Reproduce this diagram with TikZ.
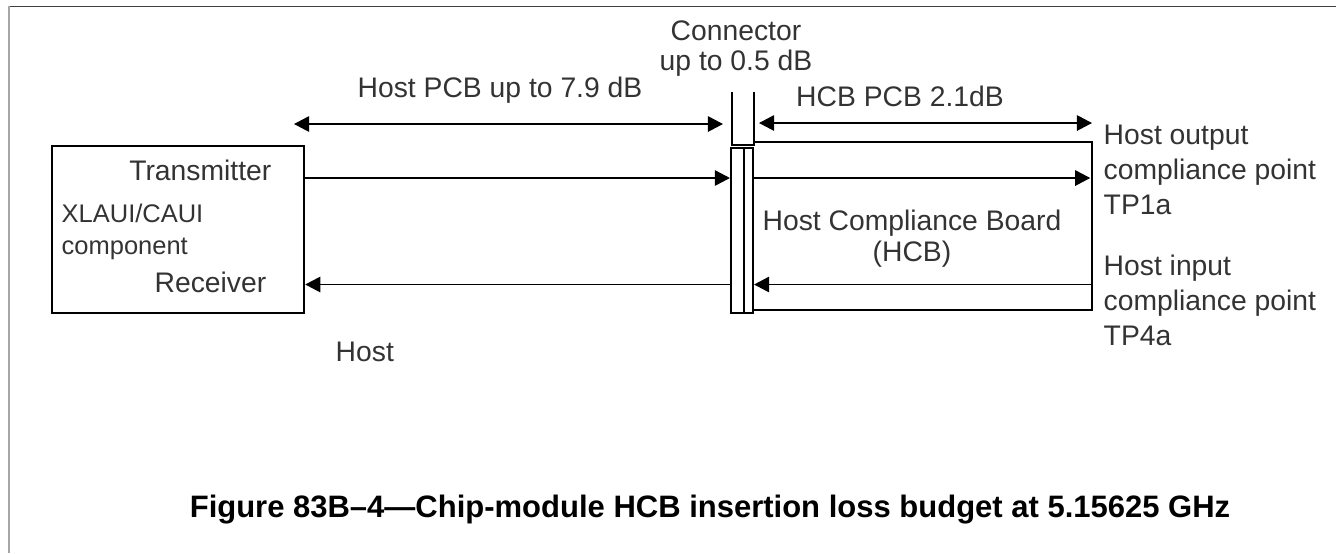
\documentclass[tikz,border=0pt]{standalone}
\usepackage{fontspec}
\setmainfont{Liberation Sans}
\usetikzlibrary{arrows.meta,positioning,calc}

\begin{document}
\begin{tikzpicture}[
        >={Triangle[length=4.3pt,width=4.4pt]},
        font=\fontsize{8.05pt}{9pt}\selectfont,
        lbl/.style={inner sep=0pt, text=black!80},
        small/.style={lbl, font=\fontsize{7.25pt}{9.1pt}\selectfont},
        compbox/.style={
            draw,
            line width=0.7pt,
            minimum width=2.52cm,
            minimum height=1.67cm,
            inner sep=0pt
        },
        pinbox/.style={
            draw,
            line width=0.6pt,
            minimum height=1.65cm,
            inner sep=0pt
        },
        sig/.style={->, line width=0.45pt},
        dim/.style={<->, line width=0.45pt},
        board/.style={line width=0.45pt},
        caption/.style={inner sep=0pt, font=\fontsize{8.82pt}{10pt}\selectfont\bfseries}
    ]
        \useasboundingbox (0,0) rectangle (13.36,-5.53);
        \draw[line width=0.4pt, draw=black!75] (0.09,-0.065) -- (13.36,-0.065);
        \draw[line width=0.6pt, draw=black!35] (0.09,-0.06) -- (0.09,-5.53);

        \coordinate (txy) at (0,-1.78);
        \coordinate (rxy) at (0,-2.845);
        \coordinate (hostL) at (2.94,-1.24);
        \coordinate (hostR) at (7.23,-1.24);
        \coordinate (hcbL) at (7.59,-1.23);
        \coordinate (hcbR) at (10.92,-1.23);
        \coordinate (brdTL) at (7.54,-1.42);
        \coordinate (brdTR) at (10.92,-1.42);
        \coordinate (brdBR) at (10.92,-3.10);

        \node[compbox] (comp) at (1.78,-2.295) {};
        \node[lbl, anchor=base east] (tx) at (2.72,-1.80) {Transmitter};
        \node[small, anchor=north west, align=left] (xlaui) at (0.61,-2.03)
            {XLAUI/CAUI\\component};
        \node[lbl, anchor=base east] (rx) at (2.67,-2.92) {Receiver};
        \node[lbl, anchor=base west] (host) at (3.35,-3.61) {Host};

        \node[pinbox, minimum width=0.13cm] (conA) at (7.375,-2.305) {};
        \node[pinbox, minimum width=0.09cm] (conB) at (7.485,-2.305) {};
        \draw[line width=0.6pt] (7.32,-0.92) -- (7.32,-1.45) -- (7.54,-1.45) -- (7.54,-0.92);
        \node[lbl, anchor=north, align=center, font=\fontsize{8.05pt}{8.54pt}\selectfont] (conlbl) at (7.36,-0.20)
            {Connector\\up to 0.5 dB};

        \node[lbl, anchor=base] (hostpcb) at (5.00,-0.97) {Host PCB up to 7.9 dB};
        \node[lbl, anchor=base] (hcbpcb) at (9.00,-1.06) {HCB PCB 2.1dB};
        \node[lbl, anchor=north, align=center, font=\fontsize{8.05pt}{8.8pt}\selectfont] (hcbname) at (9.12,-2.09)
            {Host Compliance Board\\(HCB)};

        \node[lbl, anchor=north west, align=left, font=\fontsize{8.05pt}{9.96pt}\selectfont] (tp1a) at (11.03,-1.24)
            {Host output\\compliance point\\TP1a};
        \node[lbl, anchor=north west, align=left, font=\fontsize{8.05pt}{9.96pt}\selectfont] (tp4a) at (11.03,-2.54)
            {Host input\\compliance point\\TP4a};

        \node[caption, anchor=base] (fig) at (7.10,-5.17)
            {Figure 83B–4—Chip-module HCB insertion loss budget at 5.15625 GHz};

        \draw[dim] (hostL) -- (hostR);
        \draw[dim] (hcbL) -- (hcbR);
        \draw[board] (brdTL) -- (brdTR) -- (brdBR) -- (conB.east |- brdBR);
        \draw[sig] (comp.east |- txy) -- (conA.west |- txy);
        \draw[sig] (conA.west |- rxy) -- (comp.east |- rxy);
        \draw[sig, shorten >=0.5pt] (conB.east |- txy) -- (brdTR |- txy);
        \draw[sig] (brdBR |- rxy) -- (conB.east |- rxy);
    \end{tikzpicture}
\end{document}
